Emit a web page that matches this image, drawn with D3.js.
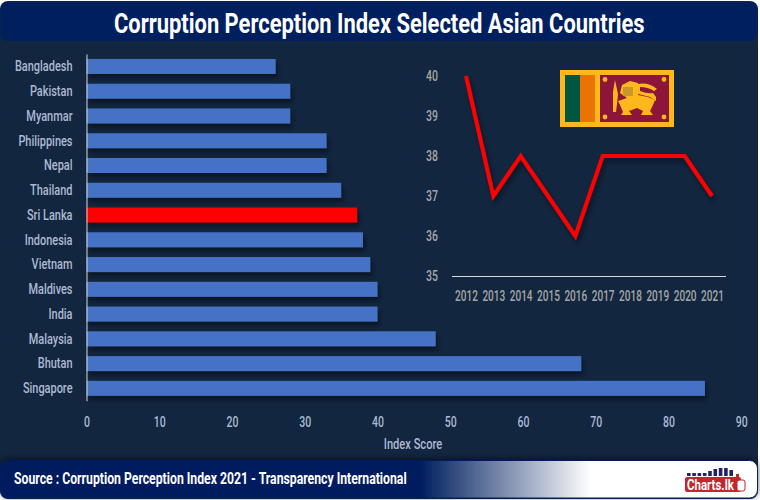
<!DOCTYPE html>
<html>
<head>
	<meta charset="utf-8">
	<title>Corruption Perception Index Selected Asian Countries</title>
	<script src="https://d3js.org/d3.v7.min.js"></script>
</head>
<style>
	html,body{margin:0;padding:0;background:#fff;}
	svg{display:block;}
	text{font-family:"Roboto",sans-serif;}
	.axis text{font-size:15px;font-weight:500;}
</style>
<body>
<svg width="760" height="500"></svg>
<script>
	var countries = ["Bangladesh","Pakistan","Myanmar","Philippines","Nepal","Thailand","Sri Lanka","Indonesia","Vietnam","Maldives","India","Malaysia","Bhutan","Singapore"];
	var scores = [26,28,28,33,33,35,37.2,38,39,40,40,48,68,85];
	var scoreTicks = [0,10,20,30,40,50,60,70,80,90];
	var years = [2012,2013,2014,2015,2016,2017,2018,2019,2020,2021];
	var sriLanka = [40,37,38,37,36,38,38,38,38,37];
	var lineTicks = [35,36,37,38,39,40];
	var titleText = "Corruption Perception Index Selected Asian Countries";
	var sourceText = "Source : Corruption Perception Index 2021 - Transparency International";

	var svg = d3.select("svg");
	var defs = svg.append("defs");

	var shadow = defs.append("filter").attr("id","shadow").attr("x","-5%").attr("y","-40%").attr("width","110%").attr("height","200%");
	shadow.append("feDropShadow").attr("dx",2).attr("dy",4).attr("stdDeviation",2.5).attr("flood-color","#000").attr("flood-opacity",0.45);

	var footShadow = defs.append("filter").attr("id","footShadow").attr("x","-2%").attr("y","-30%").attr("width","104%").attr("height","150%");
	footShadow.append("feDropShadow").attr("dx",0).attr("dy",-1).attr("stdDeviation",3).attr("flood-color","#000").attr("flood-opacity",0.6);

	var footGrad = defs.append("linearGradient").attr("id","footGrad");
	footGrad.append("stop").attr("offset","0.555").attr("stop-color","#001f5f");
	footGrad.append("stop").attr("offset","0.78").attr("stop-color","#fff");

	// squeezes text sideways, Roboto is wider than the original font
	function squeeze(sel,sx){
		sel.each(function(){
			var t = d3.select(this);
			var tx = +t.attr("x") || 0;
			t.attr("x",tx/sx).attr("transform","scale("+sx+",1)");
		});
	}

	// frame and panels
	svg.append("rect").attr("x",0).attr("y",1).attr("width",758).attr("height",498).attr("rx",8).attr("fill","#12263f");
	svg.append("rect").attr("x",0.5).attr("y",2).attr("width",757).attr("height",39).attr("rx",7).attr("fill","#001f5f");
	svg.append("rect").attr("x",0.5).attr("y",460.5).attr("width",757).attr("height",37.5).attr("rx",8)
		.attr("fill","url(#footGrad)").attr("stroke","#001f5f").attr("stroke-width",1).attr("filter","url(#footShadow)");

	var title = svg.append("text").attr("font-size",28).attr("font-weight","bold").attr("fill","#fff").text(titleText);
	var titleW = title.node().getComputedTextLength();
	title.attr("transform","translate(114,33) scale("+(531/titleW)+",1)");

	var source = svg.append("text").attr("font-size",16).attr("font-weight","bold").attr("fill","#fff").text(sourceText);
	var sourceW = source.node().getComputedTextLength();
	source.attr("transform","translate(14,484) scale("+(393/sourceW)+",1)");

	// bar chart
	var x = d3.scaleLinear().domain([0,90]).range([86.5,741.3]);
	var y = d3.scaleBand().domain(countries).range([54,400.8]).paddingInner(0.394).paddingOuter(0.2);

	svg.append("g").selectAll("rect")
		.data(countries)
		.enter()
		.append("rect")
		.attr("x",x(0))
		.attr("y",function(d){ return y(d);})
		.attr("width",function(d,i){ return x(scores[i])-x(0);})
		.attr("height",y.bandwidth())
		.attr("fill",function(d){ return d=="Sri Lanka" ? "#ff0000" : "#4472c4";})
		.attr("filter","url(#shadow)");

	var axisY = svg.append("g").attr("class","axis").attr("transform","translate("+x(0)+",0)").call(d3.axisLeft(y).tickSize(0).tickPadding(14));
	axisY.select(".domain").attr("stroke","#d9d9d9");
	axisY.selectAll("text").attr("fill","#adb9d2").call(squeeze,0.73);

	var axisX = svg.append("g").attr("class","axis").attr("transform","translate(0,416)").call(d3.axisBottom(x).tickValues(scoreTicks).tickSize(0).tickPadding(0));
	axisX.select(".domain").remove();
	axisX.selectAll("text").attr("fill","#adb9d2").call(squeeze,0.7);

	svg.append("text").attr("transform","translate(413,449) scale(0.74,1)").attr("text-anchor","middle")
		.attr("font-size",15).attr("font-weight",500).attr("fill","#adb9d2").text("Index Score");

	// line chart
	var x2 = d3.scalePoint().domain(years).range([466,712]);
	var y2 = d3.scaleLinear().domain([35,40]).range([276,76]);

	svg.append("line").attr("x1",452).attr("x2",726).attr("y1",y2(35)+0.5).attr("y2",y2(35)+0.5).attr("stroke","#d9d9d9");

	var axisYear = svg.append("g").attr("class","axis").attr("transform","translate(0,290)").call(d3.axisBottom(x2).tickSize(0).tickPadding(0));
	axisYear.select(".domain").remove();
	axisYear.selectAll("text").attr("fill","#a6a6a6").call(squeeze,0.67);

	var axisVal = svg.append("g").attr("class","axis").attr("transform","translate(438,0)").call(d3.axisLeft(y2).tickValues(lineTicks).tickFormat(d3.format("d")).tickSize(0).tickPadding(0));
	axisVal.select(".domain").remove();
	axisVal.selectAll("text").attr("fill","#a6a6a6").call(squeeze,0.7);

	var line = d3.line()
		.x(function(d,i){ return x2(years[i]);})
		.y(function(d){ return y2(d);});
	svg.append("path").datum(sriLanka).attr("d",line).attr("fill","none")
		.attr("stroke","#ff0000").attr("stroke-width",4).attr("stroke-linejoin","miter").attr("filter","url(#shadow)");

	// flag
	var flag = svg.append("g").attr("transform","translate(560,70)");
	flag.append("rect").attr("width",114).attr("height",57).attr("fill","#ffb81c");
	flag.append("rect").attr("x",5).attr("y",5).attr("width",15).attr("height",47).attr("fill","#005641");
	flag.append("rect").attr("x",20).attr("y",5).attr("width",15).attr("height",47).attr("fill","#eb7400");
	flag.append("rect").attr("x",40).attr("y",5).attr("width",69).attr("height",47).attr("fill","#8d153a");
	var lion = flag.append("g").attr("fill","#ffb81c");
	lion.append("path").attr("d","M58,31 L60,35 L63,42 L61,45 L72,45 L69,41 L77,38 L83,41 L81,45 L93,45 L90,41 L93,35 L95,30 L88,27 L78,25 L78,13 L70,11 L62,15 L60,23 L67,28 Z");
	lion.append("path").attr("d","M55,10 L58,24 L57,34 L56,42 L53,42 L53,34 L53,22 Z");
	lion.append("path").attr("d","M78,14 Q88,12 97,19 L94,21 Q88,17 80,17 L80,21 Q88,24 93,23 L96,27 L96,31 L90,27 L78,24 Z");
	lion.append("rect").attr("x",63).attr("y",17).attr("width",10).attr("height",9).attr("fill","#c9972a");
	[[45,9.5],[104,9.5],[45,47],[104,47]].forEach(function(p){
		lion.append("circle").attr("cx",p[0]).attr("cy",p[1]).attr("r",2.4);
	});

	// logo
	var logo = svg.append("g").attr("transform","translate(685,466)");
	var logoBars = [3,3,3,3,5,7,8,8,6];
	logo.selectAll("rect.b").data(logoBars).enter().append("rect").attr("class","b")
		.attr("x",function(d,i){ return 2+i*5.3;})
		.attr("y",function(d){ return 10-d;})
		.attr("width",3.6)
		.attr("height",function(d){ return d;})
		.attr("fill","#262262");
	logo.append("rect").attr("x",0).attr("y",11).attr("width",56).attr("height",15).attr("rx",2).attr("fill","#c1272d");
	logo.append("text").attr("transform","translate(2,23.5) scale(0.82,1)").attr("font-size",14).attr("font-weight","bold").attr("fill","#fff").text("Charts.lk");
	logo.append("rect").attr("x",52).attr("y",14).attr("width",8).attr("height",11).attr("rx",2).attr("fill","#fff").attr("stroke","#c1272d");
	logo.append("rect").attr("x",51).attr("y",8).attr("width",3).attr("height",7).attr("fill","#c1272d");
</script>
</body>
</html>
